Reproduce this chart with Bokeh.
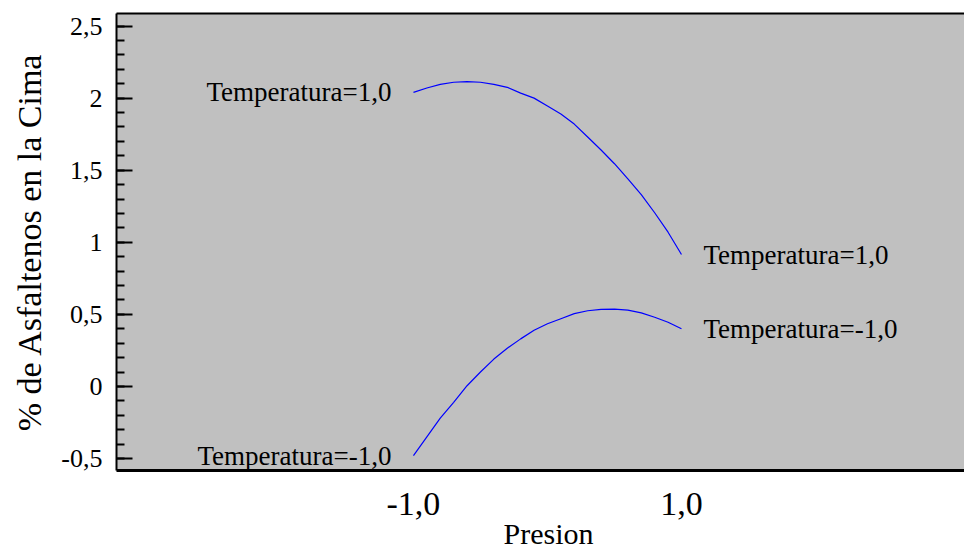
import numpy as np
from bokeh.plotting import figure
from bokeh.models import ColumnDataSource, FixedTicker, LinearAxis, Range1d, Title
from bokeh.core.properties import value
from bokeh.embed import file_html
from bokeh.resources import INLINE

# Pressure (coded units) and predicted % asphaltenes at the top, per temperature level
presion = [-1.0, -0.9, -0.8, -0.7, -0.6, -0.5, -0.4, -0.3, -0.2, -0.1, 0.0,
           0.1, 0.2, 0.3, 0.4, 0.5, 0.6, 0.7, 0.8, 0.9, 1.0]
asf_temp_alta = [2.04, 2.07, 2.095, 2.11, 2.115, 2.11, 2.095, 2.075, 2.035, 2.00, 1.945,
                 1.89, 1.82, 1.73, 1.64, 1.545, 1.44, 1.33, 1.205, 1.07, 0.915]
asf_temp_baja = [-0.48, -0.35, -0.22, -0.11, 0.005, 0.10, 0.19, 0.265, 0.33, 0.39, 0.435,
                 0.47, 0.505, 0.525, 0.535, 0.537, 0.53, 0.51, 0.48, 0.445, 0.40]
series_labels = ["Temperatura=1,0", "Temperatura=-1,0"]

y_ticks = [-0.5, 0, 0.5, 1, 1.5, 2, 2.5]
y_tick_labels = ["-0,5", "0", "0,5", "1", "1,5", "2", "2,5"]
x_ticks = [-1, 1]
x_tick_labels = ["-1,0", "1,0"]
x_title = "Presion"
y_title = "% de Asfaltenos en la Cima"

FONT = "Liberation Serif"
LINE_COLOR = "#0000ff"

p = figure(width=964, height=552, output_backend="svg", toolbar_location=None,
           x_range=Range1d(-3.216, 3.112), y_range=Range1d(-0.583, 2.587),
           min_border_left=116, min_border_right=0, min_border_top=13,
           min_border_bottom=82,
           background_fill_color="#c0c0c0", border_fill_color="white",
           outline_line_color=None)
p.grid.visible = False

# left axis: inward ticks, comma decimals
ya = p.yaxis[0]
ya.ticker = FixedTicker(ticks=y_ticks,
                        minor_ticks=[round(v, 1) for v in np.arange(-0.5, 2.51, 0.1)])
ya.major_label_overrides = dict(zip(y_ticks, y_tick_labels))
ya.axis_line_width = 2
ya.axis_line_color = "black"
ya.major_tick_in = 16
ya.major_tick_out = 0
ya.minor_tick_in = 8
ya.minor_tick_out = 0
ya.major_tick_line_width = 2
ya.minor_tick_line_width = 2
ya.major_tick_line_color = "black"
ya.minor_tick_line_color = "black"
ya.major_label_text_font = FONT
ya.major_label_text_font_size = "26px"
ya.major_label_text_color = "black"
ya.major_label_standoff = 14
ya.axis_label = y_title
ya.axis_label_text_font = FONT
ya.axis_label_text_font_size = "34px"
ya.axis_label_text_font_style = "normal"
ya.axis_label_text_color = "black"
ya.axis_label_standoff = 10

# bottom axis: labels only at the two pressure levels
xa = p.xaxis[0]
xa.ticker = FixedTicker(ticks=x_ticks, minor_ticks=[])
xa.major_label_overrides = dict(zip(x_ticks, x_tick_labels))
xa.axis_line_width = 3
xa.axis_line_color = "black"
xa.major_tick_in = 0
xa.major_tick_out = 0
xa.minor_tick_in = 0
xa.minor_tick_out = 0
xa.major_label_text_font = FONT
xa.major_label_text_font_size = "34px"
xa.major_label_text_color = "black"
xa.major_label_standoff = 22

# x title as a compact panel under the axis
p.add_layout(Title(text=x_title, align="left", vertical_align="bottom", standoff=-6,
                   offset=387, text_font=FONT, text_font_size="30px",
                   text_font_style="normal", text_color="black"), "below")

# top frame line
top = LinearAxis(ticker=FixedTicker(ticks=[], minor_ticks=[]), axis_line_width=2,
                 axis_line_color="black",
                 major_tick_in=0, major_tick_out=0, minor_tick_in=0, minor_tick_out=0,
                 major_label_standoff=0)
p.add_layout(top, "above")

p.line(presion, asf_temp_alta, line_color=LINE_COLOR, line_width=1.2)
p.line(presion, asf_temp_baja, line_color=LINE_COLOR, line_width=1.2)

# series labels at both ends of each curve
labels = ColumnDataSource(dict(
    x=[presion[0], presion[-1], presion[-1], presion[0]],
    y=[asf_temp_alta[0], asf_temp_alta[-1], asf_temp_baja[-1], asf_temp_baja[0]],
    text=[series_labels[0], series_labels[0], series_labels[1], series_labels[1]],
    align=["right", "left", "left", "right"],
    xoff=[-22, 22, 22, -22],
))
p.text(x="x", y="y", text="text", text_align="align", x_offset="xoff",
       text_baseline="middle", text_font=value(FONT), text_font_size="27px",
       text_color="black", source=labels)

open("out.html", "w").write(file_html(p, INLINE))
